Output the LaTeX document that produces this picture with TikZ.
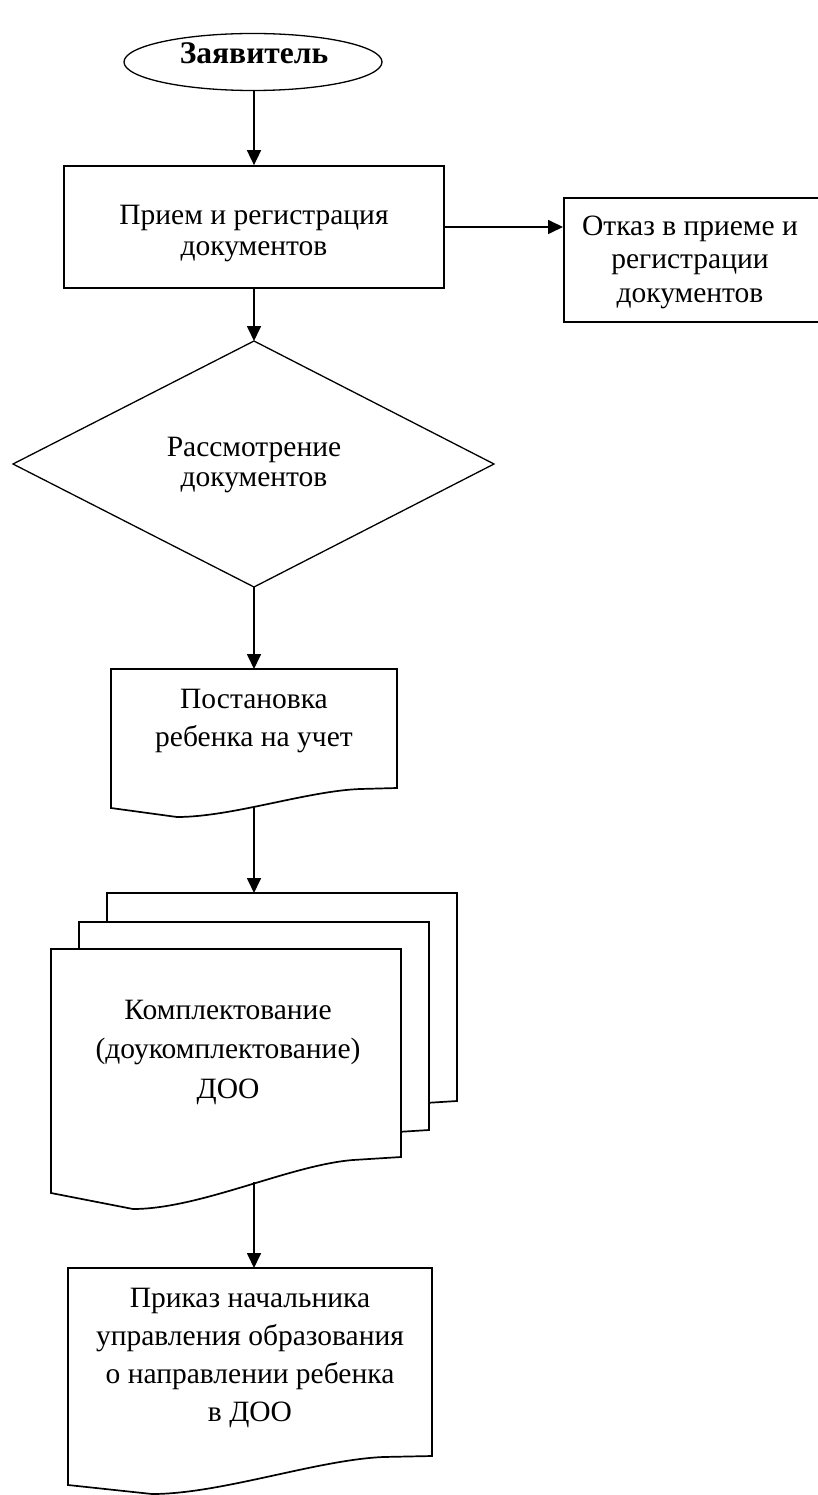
\documentclass[tikz,border=0pt]{standalone}
\usepackage{fontspec}
\setmainfont{Liberation Serif}
\usetikzlibrary{arrows.meta}
\tikzset{
  every picture/.style={x=1pt,y=-1pt},
  shapeline/.style={draw=black,line width=1.7pt,fill=white,line join=miter},
  thinline/.style={draw=black,line width=1.3pt,fill=white,line join=miter},
  conn/.style={draw=black,line width=1.7pt,-{Triangle[length=15pt,width=14pt]}},
  txt/.style={align=center,inner sep=0pt},
  fs31/.style={font={\fontsize{29.5}{31}\selectfont}},
  fs34/.style={font={\fontsize{29.5}{33.5}\selectfont}},
  fs29/.style={font={\fontsize{29.5}{29.5}\selectfont}},
  fs38/.style={font={\fontsize{29.5}{38.3}\selectfont}},
  fs39/.style={font={\fontsize{29.5}{39.5}\selectfont}},
}
\begin{document}
\begin{tikzpicture}
\useasboundingbox (0,0) rectangle (818,1495);
\fill[white] (0,0) rectangle (818,1495);

% Start ellipse
\draw[thinline] (253,62) ellipse [x radius=129, y radius=28.5];
\coordinate (ellS) at (254,90.5);
\node[txt,font={\fontsize{31.5}{31}\selectfont\bfseries}] (tStart) at (254,53) {Заявитель};

% Rect 1
\node[draw=black,line width=1.7pt,minimum width=380pt,minimum height=122pt,inner sep=0pt] (r1) at (254,227) {};
\node[txt,fs31] (t1) at (254,234) {Прием и регистрация\\документов};

% Rect 2 (refusal)
\node[draw=black,line width=1.7pt,minimum width=258pt,minimum height=124pt,inner sep=0pt,anchor=west] (r2) at (563,260) {};
\node[txt,fs34] (t2) at (690,262) {Отказ в приеме и\\регистрации\\документов};

% Diamond
\coordinate (dT) at (254,341);
\coordinate (dB) at (254,587);
\coordinate (dL) at (13,464);
\coordinate (dR) at (494,464);
\draw[thinline] (dT) -- (dR) -- (dB) -- (dL) -- cycle;
\node[txt,fs29] (t3) at (254,465) {Рассмотрение\\документов};

% Document 1
\draw[shapeline] (111,669) -- (397,669) -- (397,788) -- (360,789)
  .. controls (307,791) and (232,817) .. (177,817) -- (111,808) -- cycle;
\coordinate (d1T) at (254,669);
\coordinate (d1B) at (254,807);
\node[txt,fs38] (t4) at (254,721) {Постановка\\ребенка на учет};

% Multi-document stack
\newcommand{\pagepath}{(51,949) -- (401,949) -- (401,1157) -- (353,1160)
  .. controls (290,1165) and (200,1209) .. (133,1209) -- (51,1193) -- cycle}
\begin{scope}[shift={(56,-56)}]
  \draw[shapeline] \pagepath;
\end{scope}
\begin{scope}[shift={(28,-27)}]
  \draw[shapeline] \pagepath;
\end{scope}
\draw[shapeline] \pagepath;
\coordinate (sT) at (254,893);
\coordinate (sB) at (254,1182);
\node[txt,fs39] (t5) at (228,1052) {Комплектование\\(доукомплектование)\\ДОО};

% Document 2 (last)
\draw[shapeline] (68,1268) -- (432,1268) -- (432,1456) -- (383,1457)
  .. controls (316,1460) and (221,1494) .. (152,1494) -- (68,1485) -- cycle;
\coordinate (d2T) at (254,1268);
\node[txt,fs38] (t6) at (250,1358) {Приказ начальника\\управления образования\\о направлении ребенка\\в ДОО};

% Connectors
\draw[conn] (ellS) -- (r1.north);
\draw[conn] (r1.south) -- (dT);
\draw[conn] (r1.east) -- (r1.east -| r2.west);
\draw[conn] (dB) -- (d1T);
\draw[conn] (d1B) -- (sT);
\draw[conn] (sB) -- (d2T);
\end{tikzpicture}
\end{document}
